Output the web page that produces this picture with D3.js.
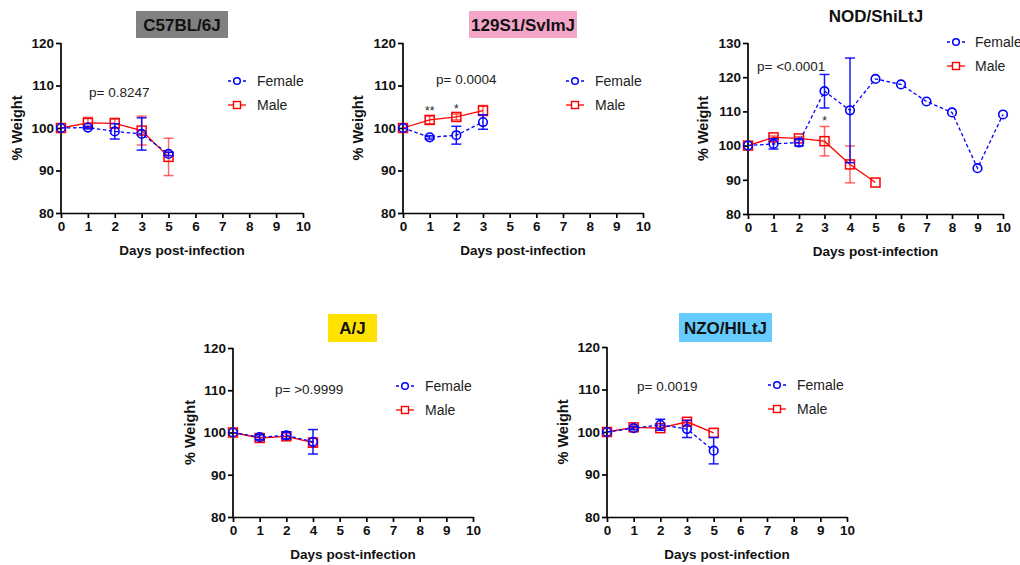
<!DOCTYPE html>
<html>
<head>
<meta charset="utf-8" />
<script src="https://cdn.jsdelivr.net/npm/d3@7"></script>
<style>
  body { margin: 0; background: #fff; }
  text { font-family: "Liberation Sans", Arial, sans-serif; }
</style>
</head>
<body>
<script>
// ---- data ----
var c57Ticks = ["0", "1", "2", "3", "5", "6", "7", "8", "9", "10"];
var c57Days = ["0", "1", "2", "3", "5"];
var c57FemaleMean = [100, 100.1, 99.2, 98.6, 93.9];
var c57FemaleErr  = [0, 0.3, 1.8, 3.8, 0.4];
var c57MaleMean   = [100, 101.2, 101.1, 99.4, 93.2];
var c57MaleErr    = [0, 1.3, 1.2, 3.4, 4.4];

var s129Ticks = ["0", "1", "2", "3", "5", "6", "7", "8", "9", "10"];
var s129Days = ["0", "1", "2", "3"];
var s129FemaleMean = [100, 97.8, 98.3, 101.4];
var s129FemaleErr  = [0, 0.4, 2.1, 1.7];
var s129MaleMean   = [100, 101.9, 102.6, 104.1];
var s129MaleErr    = [0, 0.9, 0.7, 1.2];
var s129Stars = [{day: "1", text: "**"}, {day: "2", text: "*"}];

var nodTicks = ["0", "1", "2", "3", "4", "5", "6", "7", "8", "9", "10"];
var nodFemaleDays = ["0", "1", "2", "3", "4", "5", "6", "7", "8", "9", "10"];
var nodFemaleMean = [100, 100.5, 100.9, 115.9, 110.3, 119.5, 117.9, 112.9, 109.7, 93.4, 109.1];
var nodFemaleErr  = [0, 1.5, 1.0, 4.9, 15.3, 0, 0, 0, 0, 0, 0];
var nodMaleDays = ["0", "1", "2", "3", "4", "5"];
var nodMaleMean = [100, 102.4, 102.1, 101.3, 94.5, 89.2];
var nodMaleErr  = [0, 0.4, 0.5, 4.3, 5.4, 0];
var nodStars = [{day: "3", text: "*"}];

var ajTicks = ["0", "1", "2", "4", "5", "6", "7", "8", "9", "10"];
var ajDays = ["0", "1", "2", "4"];
var ajFemaleMean = [100, 98.9, 99.3, 97.8];
var ajFemaleErr  = [0, 0.6, 0.8, 2.9];
var ajMaleMean   = [100, 98.7, 99.1, 97.6];
var ajMaleErr    = [0, 0.6, 0.6, 1.0];

var nzoTicks = ["0", "1", "2", "3", "5", "6", "7", "8", "9", "10"];
var nzoDays = ["0", "1", "2", "3", "5"];
var nzoFemaleMean = [100, 100.9, 101.7, 100.7, 95.6];
var nzoFemaleErr  = [0, 0.4, 1.3, 2.0, 3.1];
var nzoMaleMean   = [100, 101.1, 100.9, 102.4, 99.8];
var nzoMaleErr    = [0, 0.4, 0.5, 0.5, 0];

var yTicks120 = [80, 90, 100, 110, 120];
var yTicks130 = [80, 90, 100, 110, 120, 130];

function zipSeries(days, mean, err) {
    return days.map(function (d, i) { return {day: d, mean: mean[i], err: err[i]}; });
}

var BLUE = "#0000ff", RED = "#ff0000";

var svg = d3.select("body").append("svg")
    .attr("width", 1020)
    .attr("height", 565);

// ---- panel layouts ----
var panels = [
    {title: "C57BL/6J", box: "#808080", ticks: c57Ticks, yTicks: yTicks120, ymin: 80, ymax: 120,
     female: zipSeries(c57Days, c57FemaleMean, c57FemaleErr), male: zipSeries(c57Days, c57MaleMean, c57MaleErr),
     p: "p= 0.8247", stars: [],
     left: 61, right: 303, top: 43, bottom: 213, boxRect: [136, 11, 92, 27],
     pPos: [89, 97], legPos: [237, 81, 257], yLabX: 22},
    {title: "129S1/SvImJ", box: "#f4a6c9", ticks: s129Ticks, yTicks: yTicks120, ymin: 80, ymax: 120,
     female: zipSeries(s129Days, s129FemaleMean, s129FemaleErr), male: zipSeries(s129Days, s129MaleMean, s129MaleErr),
     p: "p= 0.0004", stars: s129Stars,
     left: 403, right: 643, top: 43, bottom: 213, boxRect: [469, 11, 108, 27],
     pPos: [436, 84], legPos: [575, 81, 595], yLabX: 363},
    {title: "NOD/ShiLtJ", box: null, ticks: nodTicks, yTicks: yTicks130, ymin: 80, ymax: 130,
     female: zipSeries(nodFemaleDays, nodFemaleMean, nodFemaleErr), male: zipSeries(nodMaleDays, nodMaleMean, nodMaleErr),
     p: "p= <0.0001", stars: nodStars,
     left: 748, right: 1003, top: 43, bottom: 214, boxRect: [830, 2, 92, 27],
     pPos: [757, 71], legPos: [956, 42, 975], yLabX: 708},
    {title: "A/J", box: "#ffe200", ticks: ajTicks, yTicks: yTicks120, ymin: 80, ymax: 120,
     female: zipSeries(ajDays, ajFemaleMean, ajFemaleErr), male: zipSeries(ajDays, ajMaleMean, ajMaleErr),
     p: "p= >0.9999", stars: [],
     left: 233, right: 473, top: 348, bottom: 517, boxRect: [328, 314, 49, 28],
     pPos: [275, 394], legPos: [405, 386, 425], yLabX: 195},
    {title: "NZO/HILtJ", box: "#66ccff", ticks: nzoTicks, yTicks: yTicks120, ymin: 80, ymax: 120,
     female: zipSeries(nzoDays, nzoFemaleMean, nzoFemaleErr), male: zipSeries(nzoDays, nzoMaleMean, nzoMaleErr),
     p: "p= 0.0019", stars: [],
     left: 607, right: 847, top: 347, bottom: 517, boxRect: [679, 313, 93, 29],
     pPos: [637, 391], legPos: [777, 385, 797], yLabX: 568}
];

panels.forEach(drawPanel);

function drawPanel(cfg) {
    var g = svg.append("g");
    var x = d3.scalePoint().domain(cfg.ticks).range([cfg.left, cfg.right]);
    var y = d3.scaleLinear().domain([cfg.ymin, cfg.ymax]).range([cfg.bottom, cfg.top]);

    // title
    var b = cfg.boxRect;
    if (cfg.box) {
        g.append("rect").attr("x", b[0]).attr("y", b[1]).attr("width", b[2]).attr("height", b[3])
            .attr("fill", cfg.box);
    }
    g.append("text").attr("x", b[0] + b[2] / 2).attr("y", b[1] + b[3] / 2 + 6)
        .attr("text-anchor", "middle").attr("font-size", 17).attr("font-weight", "bold")
        .attr("fill", "#111").text(cfg.title);

    // axes
    var yAxis = g.append("g").attr("transform", "translate(" + cfg.left + ",0)")
        .call(d3.axisLeft(y).tickValues(cfg.yTicks).tickSize(5).tickSizeOuter(0).tickPadding(2));
    var xAxis = g.append("g").attr("transform", "translate(0," + cfg.bottom + ")")
        .call(d3.axisBottom(x).tickSize(5).tickSizeOuter(0).tickPadding(3));
    [yAxis, xAxis].forEach(function (a) {
        a.select(".domain").attr("stroke", "#000").attr("stroke-width", 1.7);
        a.selectAll(".tick line").attr("stroke", "#000").attr("stroke-width", 1.7);
        a.selectAll(".tick text").attr("fill", "#111").attr("font-size", 13.5)
            .attr("font-weight", "bold").attr("font-family", "Liberation Sans, Arial, sans-serif");
    });
    yAxis.select(".domain").attr("d", "M0," + cfg.bottom + "V" + cfg.top);

    // axis titles
    g.append("text").attr("x", (cfg.left + cfg.right) / 2).attr("y", cfg.bottom + 42)
        .attr("text-anchor", "middle").attr("font-size", 13.5).attr("font-weight", "bold")
        .attr("fill", "#111").text("Days post-infection");
    g.append("text")
        .attr("transform", "translate(" + cfg.yLabX + "," + (cfg.top + cfg.bottom) / 2 + ") rotate(-90)")
        .attr("text-anchor", "middle").attr("font-size", 14.5).attr("font-weight", "bold")
        .attr("fill", "#111").text("% Weight");

    // p value
    g.append("text").attr("x", cfg.pPos[0]).attr("y", cfg.pPos[1])
        .attr("font-size", 13.5).attr("fill", "#222").text(cfg.p);

    // series: male first, female on top
    drawSeries(g, cfg.male, x, y, RED, "male");
    drawSeries(g, cfg.female, x, y, BLUE, "female");

    // significance stars
    g.selectAll(".star").data(cfg.stars).enter().append("text")
        .attr("x", function (d) { return x(d.day); })
        .attr("y", function (d) {
            var m = cfg.male.filter(function (s) { return s.day === d.day; })[0];
            return y(m.mean + m.err) - 1;
        })
        .attr("text-anchor", "middle").attr("font-size", 12).attr("fill", "#222")
        .text(function (d) { return d.text; });

    // legend
    var lx = cfg.legPos[0], ly = cfg.legPos[1], tx = cfg.legPos[2];
    legendItem(g, lx, ly, tx, BLUE, "female", "Female");
    legendItem(g, lx, ly + 24, tx, RED, "male", "Male");
}

function drawSeries(g, data, x, y, color, kind) {
    var line = d3.line().x(function (d) { return x(d.day); }).y(function (d) { return y(d.mean); });
    g.append("path").datum(data).attr("d", line).attr("fill", "none")
        .attr("stroke", color).attr("stroke-width", 1.3)
        .attr("stroke-dasharray", kind === "female" ? "3.5,2.5" : null);

    var eb = g.append("g").attr("stroke", color).attr("stroke-width", 1.5)
        .attr("stroke-opacity", kind === "male" ? 0.6 : 0.9);
    data.filter(function (d) { return d.err > 0; }).forEach(function (d) {
        var cx = x(d.day), y1 = y(d.mean + d.err), y0 = y(d.mean - d.err);
        eb.append("line").attr("x1", cx).attr("x2", cx).attr("y1", y1).attr("y2", y0);
        eb.append("line").attr("x1", cx - 5).attr("x2", cx + 5).attr("y1", y1).attr("y2", y1);
        eb.append("line").attr("x1", cx - 5).attr("x2", cx + 5).attr("y1", y0).attr("y2", y0);
    });

    data.forEach(function (d) {
        marker(g, x(d.day), y(d.mean), color, kind);
    });
}

function marker(g, cx, cy, color, kind) {
    if (kind === "female") {
        g.append("circle").attr("cx", cx).attr("cy", cy).attr("r", 4.3)
            .attr("fill", "none").attr("stroke", color).attr("stroke-width", 1.6);
    } else {
        g.append("rect").attr("x", cx - 4.5).attr("y", cy - 4.5).attr("width", 9).attr("height", 9)
            .attr("fill", "none").attr("stroke", color).attr("stroke-width", 1.5);
    }
}

function legendItem(g, lx, ly, tx, color, kind, label) {
    g.append("line").attr("x1", lx - 9).attr("x2", lx + 9).attr("y1", ly).attr("y2", ly)
        .attr("stroke", color).attr("stroke-width", 1.3)
        .attr("stroke-dasharray", kind === "female" ? "3,2" : null);
    if (kind === "female") {
        g.append("circle").attr("cx", lx).attr("cy", ly).attr("r", 3.3)
            .attr("fill", "#fff").attr("stroke", color).attr("stroke-width", 1.5);
    } else {
        g.append("rect").attr("x", lx - 3.5).attr("y", ly - 3.5).attr("width", 7).attr("height", 7)
            .attr("fill", "#fff").attr("stroke", color).attr("stroke-width", 1.4);
    }
    g.append("text").attr("x", tx).attr("y", ly + 5).attr("font-size", 14)
        .attr("fill", "#222").text(label);
}
</script>
</body>
</html>
